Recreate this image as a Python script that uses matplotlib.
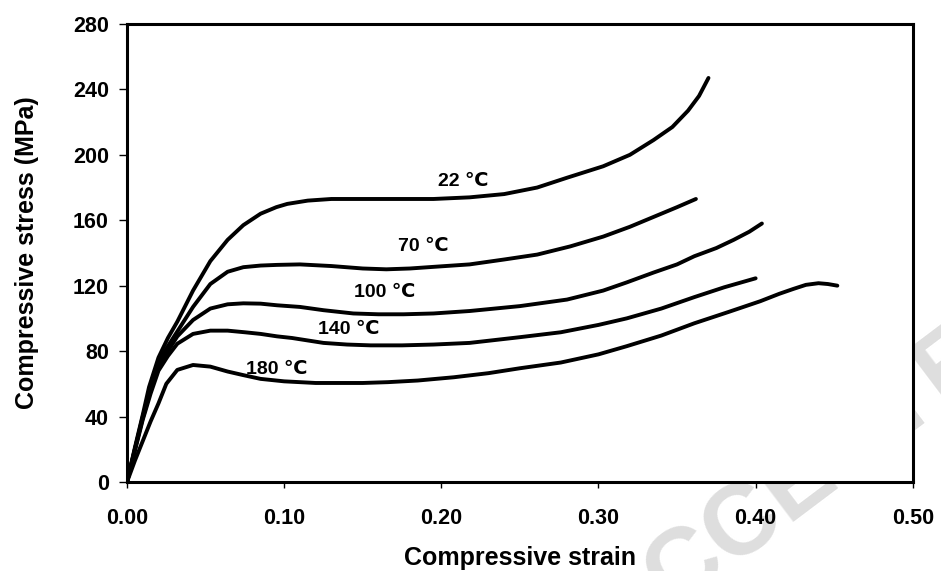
import numpy as np
import matplotlib
matplotlib.use("Agg")
import matplotlib.pyplot as plt

plt.rcParams['font.family'] = ['Liberation Sans', 'DejaVu Sans']
plt.rcParams['font.weight'] = 'bold'

# strain / stress points (MPa)
strain_22 = [0, 0.005, 0.01, 0.014, 0.02, 0.026, 0.032, 0.042, 0.053, 0.064, 0.074, 0.085, 0.095,
             0.102, 0.115, 0.13, 0.15, 0.17, 0.195, 0.218, 0.24, 0.261, 0.28, 0.303, 0.32, 0.335,
             0.347, 0.357, 0.364, 0.370]
stress_22 = [0, 21, 41, 58, 76, 88, 98, 117, 135, 148, 157, 164, 168,
             170, 172, 173, 173, 173, 173, 174, 176, 180, 186, 193, 200, 209,
             217, 227, 236, 247]

strain_70 = [0, 0.005, 0.01, 0.015, 0.02, 0.026, 0.032, 0.042, 0.053, 0.064, 0.074, 0.085, 0.0955,
             0.11, 0.13, 0.15, 0.165, 0.18, 0.195, 0.218, 0.24, 0.261, 0.282, 0.303, 0.32,
             0.335, 0.35, 0.362]
stress_70 = [0, 20, 40, 57, 73, 83, 92, 107, 121, 128.5, 131.3, 132.3, 132.7,
             133, 132, 130.5, 130, 130.5, 131.5, 133, 136, 139, 144, 150, 156,
             162, 168, 173]

strain_100 = [0, 0.005, 0.01, 0.015, 0.02, 0.026, 0.032, 0.042, 0.053, 0.064, 0.074, 0.085, 0.0955,
              0.11, 0.125, 0.144, 0.16, 0.176, 0.195, 0.218, 0.25, 0.28, 0.303, 0.318, 0.335,
              0.35, 0.361, 0.375, 0.386, 0.396, 0.404]
stress_100 = [0, 20, 39, 56, 71, 80, 89, 99, 106, 108.6, 109.2, 109, 108,
              107, 105, 103, 102.5, 102.5, 103, 104.5, 107.5, 111.5, 117, 122, 128,
              133, 138, 143, 148, 153, 158]

strain_140 = [0, 0.005, 0.01, 0.015, 0.02, 0.026, 0.032, 0.042, 0.053, 0.064, 0.075, 0.085, 0.0955,
              0.105, 0.115, 0.125, 0.14, 0.155, 0.175, 0.195, 0.218, 0.25, 0.276, 0.3, 0.318, 0.34,
              0.361, 0.38, 0.4]
stress_140 = [0, 19, 38, 54, 68, 77, 84.5, 90.5, 92.5, 92.5, 91.5, 90.5, 89,
              88, 86.5, 85, 84, 83.5, 83.5, 84, 85, 88.5, 91.5, 96, 100, 106,
              113, 119, 124.5]

strain_180 = [0, 0.005, 0.01, 0.015, 0.02, 0.025, 0.032, 0.042, 0.053, 0.064, 0.074, 0.085, 0.1,
              0.12, 0.134, 0.15, 0.166, 0.185, 0.208, 0.23, 0.25, 0.276, 0.3, 0.318, 0.34,
              0.361, 0.383, 0.403, 0.415, 0.424, 0.432, 0.44, 0.446, 0.452]
stress_180 = [0, 13, 25, 37, 48, 60, 68.5, 71.5, 70.5, 67.5, 65.3, 63, 61.5,
              60.5, 60.5, 60.5, 61, 62, 64, 66.5, 69.5, 73, 78, 83, 89.5,
              97, 104, 110.5, 115, 118, 120.5, 121.5, 121, 120]

curve_labels = ["22 \u2103", "70 \u2103", "100 \u2103", "140 \u2103", "180 \u2103"]
label_x = [0.214, 0.1885, 0.164, 0.141, 0.095]
label_y = [183.5, 144, 116, 93, 69]

xticks = [0.0, 0.1, 0.2, 0.3, 0.4, 0.5]
yticks = [0, 40, 80, 120, 160, 200, 240, 280]

fig = plt.figure(figsize=(9.41, 5.71), dpi=100)
ax = fig.add_axes([0.135, 0.156, 0.835, 0.802])
ax.set_zorder(1)
ax.set_facecolor('white')

# faint watermark, mostly hidden behind the plot area
fig.text(0.654, -0.150, "ACCEPTED MANUSCRIPT", fontsize=72, color='#dedede',
         rotation=37, rotation_mode='anchor', ha='left', va='baseline', zorder=0.5)

for sx, sy in [(strain_22, stress_22), (strain_70, stress_70), (strain_100, stress_100),
               (strain_140, stress_140), (strain_180, stress_180)]:
    ax.plot(sx, sy, color='black', lw=2.8, solid_capstyle='round', solid_joinstyle='round')

for t, lx, ly in zip(curve_labels, label_x, label_y):
    ax.text(lx, ly, t, fontsize=14, fontweight='bold', ha='center', va='center')

ax.set_xlim(0, 0.5)
ax.set_ylim(0, 280)
ax.set_xticks(xticks)
ax.set_yticks(yticks)
ax.set_xticklabels([f"{v:.2f}" for v in xticks])
ax.set_yticklabels([str(v) for v in yticks])

for s in ax.spines.values():
    s.set_linewidth(2.2)
ax.tick_params(axis='x', direction='out', length=4.5, width=1, pad=14, labelsize=15.5)
ax.tick_params(axis='y', direction='out', length=6, width=1, pad=7, labelsize=15.5)
for lab in ax.get_xticklabels() + ax.get_yticklabels():
    lab.set_fontweight('bold')

ax.set_xlabel("Compressive strain", fontsize=18, fontweight='bold', va='baseline')
ax.set_ylabel("Compressive stress (MPa)", fontsize=18, fontweight='bold')
ax.xaxis.set_label_coords(0.5, -0.181)
ax.yaxis.set_label_coords(-0.112, 0.5)

fig.savefig("out.png", dpi=100)
